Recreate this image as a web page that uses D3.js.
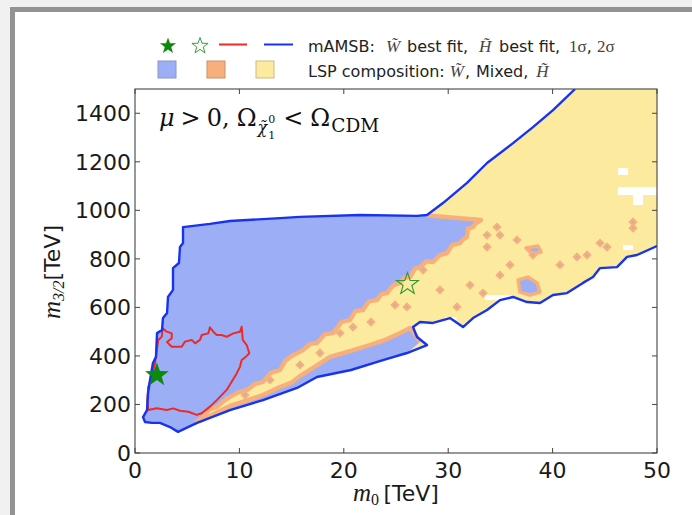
<!DOCTYPE html>
<html><head><meta charset="utf-8">
<script src="https://cdn.jsdelivr.net/npm/d3@7"></script>
<style>
html,body{margin:0;padding:0;background:#f2f1f1;}
svg{display:block;}
</style></head><body>
<svg id="c" width="692" height="515"></svg>
<script>
// ---------- data ----------
const xTicks=[0,10,20,30,40,50];
const yTicks=[0,200,400,600,800,1000,1200,1400];
const xDomain=[0,50], yDomain=[0,1500];

// 2 sigma contour (open, clipped by the top & right frame)
const contour2sigma=[[42.15,1500],[40.04,1413],[38.12,1343],[36.21,1277],[33.72,1195],[31.80,1113],[29.50,1030],[27.97,981],[27.01,977],[21.55,981],[15.80,973],[13.89,968],[9.10,956],[7.18,944],[4.60,931],[4.60,865],[4.31,849],[4.21,783],[3.64,762],[3.64,672],[3.16,643],[3.07,577],[2.68,556],[2.59,507],[2.11,494],[2.01,396],[1.72,371],[1.44,301],[1.25,247],[1.15,177],[0.77,148],[0.96,128],[1.63,124],[2.39,124],[3.35,107],[4.12,87],[5.94,124],[9.10,177],[12.26,218],[15.52,268],[17.43,313],[20.69,342],[23.75,383],[26.05,412],[27.97,445],[27.01,478],[26.63,519],[27.30,540],[28.54,536],[30.17,556],[31.42,519],[32.38,556],[33.72,589],[34.96,630],[36.21,643],[37.55,622],[38.79,618],[40.04,651],[41.38,659],[42.91,701],[43.87,725],[44.54,762],[46.17,766],[47.13,808],[48.08,816],[50,853]];
const regionCorner=[[50,1500]];

// 1 sigma contour (closed)
const contour1sigma=[[2.65,514],[3.04,500],[3.52,493],[3.52,473],[3.07,457],[3.52,438],[4.47,438],[4.79,459],[5.43,466],[5.75,452],[6.23,466],[6.39,486],[7.02,493],[7.18,518],[7.50,500],[7.83,486],[8.30,486],[8.78,479],[9.42,493],[10.06,500],[10.22,520],[10.32,466],[10.70,445],[10.95,411],[10.63,397],[10.22,383],[10.06,356],[9.74,328],[8.78,260],[7.83,218],[7.18,191],[6.39,164],[5.91,157],[5.11,170],[4.31,174],[3.67,184],[3.04,177],[2.08,184],[1.27,177],[1.18,218],[1.27,273],[1.60,314],[1.92,370],[2.08,424],[2.23,466],[2.56,479]];

// Wino-like LSP region: upper edge along the contour, then the Wino/mixed boundary
const winoTop=[[4.60,931],[7.18,944],[9.10,956],[13.89,968],[15.80,973],[21.55,981],[27.01,977],[27.97,981]];
const winoBoundary=[[27.97,979],[33.14,960],[32.6,945],[32.38,931],[31.9,925],[31.80,890],[31.4,880],[31.13,865],[30.4,858],[29.89,824],[29.2,815],[28.54,787],[27.9,790],[27.30,766],[26.8,760],[26.34,725],[25.8,722],[25.38,701],[24.7,690],[24.14,659],[23.6,655],[23.18,630],[22.4,625],[21.84,589],[21.1,585],[20.59,548],[19.8,540],[18.97,494],[18.2,490],[17.43,453],[16.8,450],[16.09,424],[15.0,400],[14.4,380],[13.89,342],[13.0,330],[12.26,293],[11.5,285],[10.73,260],[9.9,250],[9.10,231],[8.5,215],[7.85,190],[7.1,178],[6.51,148],[5.75,124]];
const winoBottom=[[4.12,87],[3.35,107],[2.39,124],[1.63,124],[0.96,128],[0.77,148],[1.15,177],[1.25,247],[1.44,301],[1.72,371],[2.01,396],[2.11,494],[2.59,507],[2.68,556],[3.07,577],[3.16,643],[3.64,672],[3.64,762],[4.21,783],[4.31,849],[4.60,865]];

// lower Wino strip below the mixed/Higgsino band
const lowerWinoTop=[[6.23,132],[7.5,160],[9.10,194],[10.6,215],[12.26,239],[13.89,272],[15.0,290],[15.80,317],[17.2,355],[18.68,396],[20.59,420],[22.51,445],[23.95,466],[25.19,490],[26.34,515],[26.82,490],[27.30,457]];
const lowerWinoBottom=[[26.05,412],[23.75,383],[20.69,342],[17.43,313],[15.52,268],[12.26,218],[9.10,177],[5.94,124]];

// small Wino patches inside the Higgsino region
const winoPatchA=[[36.69,713],[37.64,725],[38.51,701],[38.79,663],[37.84,651],[36.88,663]];
const winoPatchB=[[37.45,845],[38.60,853],[38.89,828],[38.03,820]];

// isolated mixed-composition points
const mixedPoints=[[34.67,931],[33.72,898],[34.96,898],[36.59,878],[33.72,849],[38.12,816],[35.92,775],[47.70,952],[47.70,927],[42.34,808],[43.30,816],[44.54,865],[45.21,849],[27.59,754],[26.05,602],[30.84,602],[33.33,659],[20.88,519],[19.64,494],[17.72,412],[29.21,672],[40.71,775],[32.09,692],[34.96,733],[15.8,363],[12.93,301],[10.54,239],[22.6,540],[24.9,610]];

// holes with no valid points
const holes=[[46.26,47.22,1146,1174],[46.26,50,1063,1096],[47.70,48.66,1022,1063],[46.74,47.70,836,857],[25.4,26.2,470,500],[33.5,36.0,630,650],[29.7,30.8,548,560]];

const bestFitWino=[2.1,321];
const bestFitHiggsino=[26.1,696];

// ---------- drawing ----------
const svg=d3.select('#c');
const W=692,H=515;
const L=135,R=657,T=89,B=453;
const x=d3.scaleLinear().domain(xDomain).range([L,R]);
const y=d3.scaleLinear().domain(yDomain).range([B,T]);
const line=d3.line().x(d=>x(d[0])).y(d=>y(d[1]));

// card
svg.append('rect').attr('x',0).attr('y',0).attr('width',W).attr('height',H).attr('fill','#f2f1f1');
svg.append('rect').attr('x',12.5).attr('y',9.5).attr('width',W).attr('height',H).attr('fill','#fff').attr('stroke','#939393').attr('stroke-width',5);

svg.append('clipPath').attr('id','pc').append('rect').attr('x',L).attr('y',T).attr('width',R-L).attr('height',B-T);
const g=svg.append('g').attr('clip-path','url(#pc)');

const C={blue:'#9caef5',yellow:'#fcea9f',orange:'#f7b07b',line:'#1733f0',red:'#ee2a26',green:'#0b8a0b'};

g.append('path').attr('d',line(contour2sigma.concat(regionCorner))+'Z').attr('fill',C.yellow);
holes.forEach(h=>g.append('rect').attr('x',x(h[0])).attr('y',y(h[3])).attr('width',x(h[1])-x(h[0])).attr('height',y(h[2])-y(h[3])).attr('fill','#fff'));

g.append('path').attr('d',line(winoTop.concat(winoBoundary,winoBottom))+'Z').attr('fill',C.blue);
g.append('path').attr('d',line(lowerWinoTop.concat(lowerWinoBottom))+'Z').attr('fill',C.blue);
[winoPatchA,winoPatchB].forEach(p=>g.append('path').attr('d',line(p)+'Z').attr('fill',C.blue).attr('stroke',C.orange).attr('stroke-width',3.5).attr('stroke-linejoin','round'));

g.append('path').attr('d',line(winoBoundary)).attr('fill','none').attr('stroke',C.orange).attr('stroke-width',4.4).attr('stroke-linejoin','round');
g.append('path').attr('d',line(lowerWinoTop)).attr('fill','none').attr('stroke',C.orange).attr('stroke-width',4.4).attr('stroke-linejoin','round');

mixedPoints.forEach(p=>{
  g.append('rect').attr('x',-3.3).attr('y',-3.3).attr('width',6.6).attr('height',6.6).attr('fill',C.orange)
   .attr('transform',`translate(${x(p[0])},${y(p[1])}) rotate(45)`);
  g.append('rect').attr('x',-1.2).attr('y',-1.2).attr('width',2.4).attr('height',2.4).attr('fill','#c9aeb6')
   .attr('transform',`translate(${x(p[0])},${y(p[1])}) rotate(45)`);
});

g.append('path').attr('d',line(contour1sigma)+'Z').attr('fill','none').attr('stroke',C.red).attr('stroke-width',2).attr('stroke-linejoin','round');
g.append('path').attr('d',line(contour2sigma)).attr('fill','none').attr('stroke',C.line).attr('stroke-width',2.4).attr('stroke-linejoin','round');

function starPath(R0){
  const r=R0*0.4;let s='';
  for(let i=0;i<10;i++){const a=-Math.PI/2+i*Math.PI/5;const rr=i%2?r:R0;s+=(i?'L':'M')+(rr*Math.cos(a)).toFixed(2)+','+(rr*Math.sin(a)).toFixed(2);}
  return s+'Z';
}
svg.append('path').attr('d',starPath(12.5)).attr('transform',`translate(${x(bestFitWino[0])},${y(bestFitWino[1])})`).attr('fill',C.green);
svg.append('path').attr('d',starPath(11.5)).attr('transform',`translate(${x(bestFitHiggsino[0])},${y(bestFitHiggsino[1])})`).attr('fill','none').attr('stroke','#2f9a2f').attr('stroke-width',1.1);

// frame & ticks
svg.append('rect').attr('x',L).attr('y',T).attr('width',R-L).attr('height',B-T).attr('fill','none').attr('stroke','#444').attr('stroke-width',1.1);
const tk=svg.append('g').attr('stroke','#444').attr('stroke-width',1);
xTicks.forEach(v=>{tk.append('line').attr('x1',x(v)).attr('x2',x(v)).attr('y1',B).attr('y2',B-5);tk.append('line').attr('x1',x(v)).attr('x2',x(v)).attr('y1',T).attr('y2',T+5);});
yTicks.forEach(v=>{tk.append('line').attr('x1',L).attr('x2',L+5).attr('y1',y(v)).attr('y2',y(v));tk.append('line').attr('x1',R).attr('x2',R-5).attr('y1',y(v)).attr('y2',y(v));});

const sans='DejaVu Sans', tserif='"Liberation Serif", serif', dserif='"DejaVu Serif", serif';
xTicks.forEach(v=>svg.append('text').attr('x',x(v)).attr('y',B+25).attr('text-anchor','middle').attr('font-family',sans).attr('font-size',22).attr('fill','#1a1a1a').text(v));
yTicks.forEach(v=>svg.append('text').attr('x',L-4).attr('y',y(v)+8).attr('text-anchor','end').attr('font-family',sans).attr('font-size',22).attr('fill','#1a1a1a').text(v));

// axis titles
const xt=svg.append('text').attr('x',(L+R)/2).attr('y',501).attr('text-anchor','middle').attr('fill','#1a1a1a');
xt.append('tspan').attr('font-family',tserif).attr('font-style','italic').attr('font-size',25).text('m');
xt.append('tspan').attr('font-family',tserif).attr('font-size',16).attr('dy',4).text('0');
xt.append('tspan').attr('font-family',sans).attr('font-size',22).attr('dy',-4).text('\u2009[TeV]');

const yt=svg.append('text').attr('transform','translate(60,272) rotate(-90)').attr('text-anchor','middle').attr('fill','#1a1a1a');
yt.append('tspan').attr('font-family',tserif).attr('font-style','italic').attr('font-size',25).text('m');
yt.append('tspan').attr('font-family',tserif).attr('font-style','italic').attr('font-size',16).attr('dy',4).text('3/2');
yt.append('tspan').attr('font-family',sans).attr('font-size',22).attr('dy',-4).text('[TeV]');

// text helper
function piece(px,py,str,fam,size,style,fill){
  const t=svg.append('text').attr('x',px).attr('y',py).attr('font-family',fam).attr('font-size',size)
    .attr('font-style',style||'normal').attr('fill',fill||'#111').text(str);
  return px+t.node().getComputedTextLength();
}
// annotation  mu > 0, Omega_{chi~_1^0} < Omega_CDM
{
  const by=126, fs=24;
  let cx=piece(159,by,'\u03bc',dserif,fs,'italic');
  cx=piece(cx+6,by,'>',dserif,fs);
  cx=piece(cx+6,by,'0,',dserif,fs);
  cx=piece(cx+7,by,'\u03a9',dserif,fs);
  cx=piece(cx+1,by+7,'\u03c7\u0303',dserif,16,'italic');
  piece(cx+1,by-3,'0',dserif,11);
  cx=piece(cx+1,by+13,'1',dserif,11);
  cx=piece(cx+8,by,'<',dserif,fs);
  cx=piece(cx+7,by,'\u03a9',dserif,fs);
  piece(cx+1,by+6,'CDM',dserif,18.5);
}

// legend
svg.append('path').attr('d',starPath(8.5)).attr('transform','translate(168,46)').attr('fill',C.green);
svg.append('path').attr('d',starPath(8.5)).attr('transform','translate(200,46)').attr('fill','none').attr('stroke','#3aa03a').attr('stroke-width',1);
svg.append('line').attr('x1',219).attr('x2',247).attr('y1',44.5).attr('y2',44.5).attr('stroke',C.red).attr('stroke-width',2);
svg.append('line').attr('x1',264).attr('x2',293).attr('y1',44.5).attr('y2',44.5).attr('stroke',C.line).attr('stroke-width',2);
[[158,C.blue,'#8c96c6'],[207,C.orange,'#c7936c'],[256,C.yellow,'#c9bb86']].forEach(s=>svg.append('rect').attr('x',s[0]).attr('y',61).attr('width',18).attr('height',17).attr('fill',s[1]).attr('stroke',s[2]).attr('stroke-width',1));

{
  const lf=16, mf=17, col='#222', mcol='#444';
  piece(308,52,'mAMSB:',sans,lf,'normal',col);
  piece(386,52,'W\u0303',tserif,mf,'italic',mcol);
  piece(407,52,'best fit,',sans,lf,'normal',col);
  piece(479,52,'H\u0303',tserif,mf,'italic',mcol);
  piece(499,52,'best fit,',sans,lf,'normal',col);
  let cx=piece(569,52,'1\u03c3',tserif,mf,'normal',mcol);
  piece(cx,52,',',sans,lf,'normal',col);
  piece(597,52,'2\u03c3',tserif,mf,'normal',mcol);

  cx=piece(308,77,'LSP composition:',sans,lf,'normal',col);
  cx=piece(cx+5,77,'W\u0303',tserif,mf,'italic',mcol);
  cx=piece(cx+1,77,',',sans,lf,'normal',col);
  cx=piece(cx+6,77,'Mixed,',sans,lf,'normal',col);
  piece(cx+8,77,'H\u0303',tserif,mf,'italic',mcol);
}
</script>
</body></html>
